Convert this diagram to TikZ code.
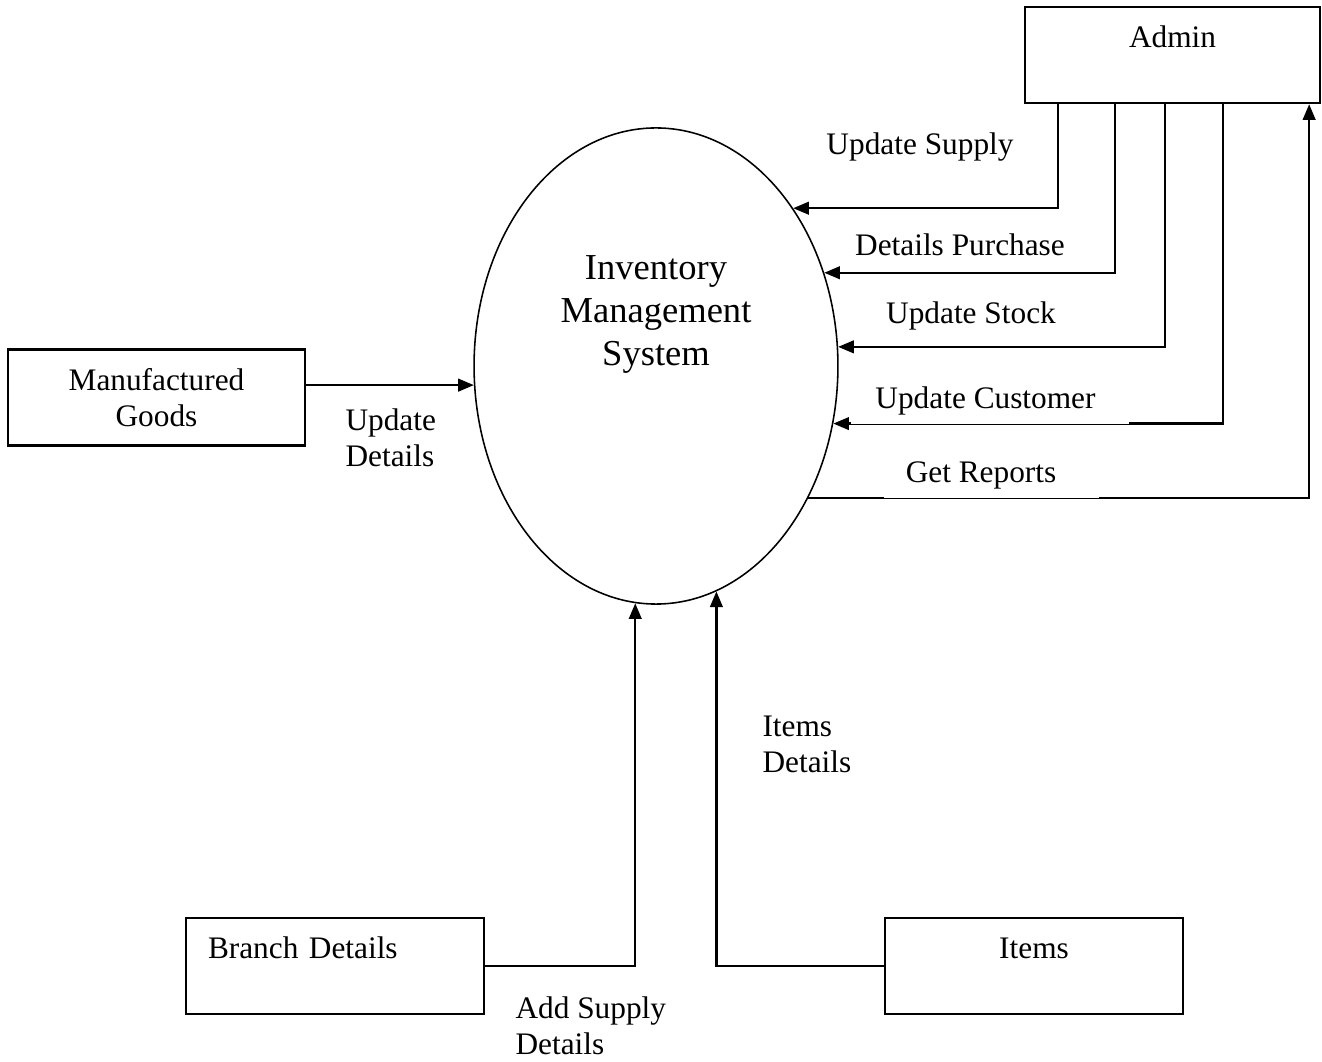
\documentclass[tikz,border=0pt]{standalone}
\usepackage{fontspec}
\setmainfont{Liberation Serif}
\usetikzlibrary{arrows.meta,calc,shapes.geometric}

\begin{document}
\begin{tikzpicture}[x=0.3831pt,y=-0.3831pt,
  every node/.style={font=\fontsize{12}{13.8}\selectfont},
  entity/.style={draw,line width=0.9pt,minimum width=113.8pt,minimum height=36.8pt,inner sep=0pt,align=center},
  process/.style={draw,ellipse,line width=0.6pt,minimum width=139.4pt,minimum height=182.4pt,inner sep=0pt},
  flow/.style={line width=0.9pt,-{Triangle[length=6pt,width=4.8pt]}},
  lbl/.style={inner sep=0pt,align=left},
  cover/.style={fill=white,inner sep=0pt}
]
\useasboundingbox (0,0) rectangle (1322,1062);

% external entities
\node[entity,minimum width=113.0pt] (admin) at (1172.5,55) {Admin\\ \mbox{}};
\node[entity] (mfg) at (156.5,397.5) {Manufactured\\Goods};
\node[entity,text width=97.3pt,inner xsep=8.4pt,align=left] (branch) at (335,966) {Branch Details\\ \mbox{}};
\node[entity,minimum width=114.2pt] (items) at (1034,966) {Items\\ \mbox{}};

% central process
\node[process] (ims) at (656,366) {};
\node[font=\fontsize{14}{16.5}\selectfont,align=center,inner sep=0pt] (imsname) at (656,314.5) {Inventory\\Management\\System};

% flows from Admin into the system
\draw[flow] ($(admin.south west)+(34,0)$) |- (ims.49.9);
\draw[flow] ($(admin.south west)+(91,0)$) |- (ims.29.0);
\draw[flow] ($(admin.south west)+(141,0)$) |- (ims.6.3);
\draw[flow] ($(admin.south west)+(199,0)$) |- (ims.-18.2);
% reports back to Admin
\draw[flow] (ims.-41.1) -| ($(admin.south east)+(-12,0)$);

% other inputs
\draw[flow] (mfg.east |- ims.186.3) -- (ims.186.3);
\draw[flow] (branch.east) -| (ims.265.2);
\draw[flow] (items.west) -| (ims.285.2);

% flow labels
\node[lbl] (lsupply) at (920,147) {Update Supply};
\node[lbl] (lpurchase) at (960,245) {Details Purchase};
\node[cover,minimum width=89.6pt,minimum height=21.45pt] (cstock) at (982,318) {};
\node[lbl] (lstock) at (971,316) {Update Stock};
\node[cover,minimum width=106.5pt,minimum height=17.6pt] (ccust) at (990,401) {};
\node[lbl] (lcust) at (985.5,401) {Update Customer};
\node[cover,minimum width=82.4pt,minimum height=17.6pt] (crep) at (991.5,475) {};
\node[lbl] (lrep) at (981,475) {Get Reports};

\node[lbl,anchor=west] (ldetails) at (345,438) {Update\\Details};
\node[lbl,anchor=west] (laddsup) at (515,1026) {Add Supply\\Details};
\node[lbl,anchor=west] (litems) at (762,744) {Items\\Details};
\end{tikzpicture}
\end{document}
